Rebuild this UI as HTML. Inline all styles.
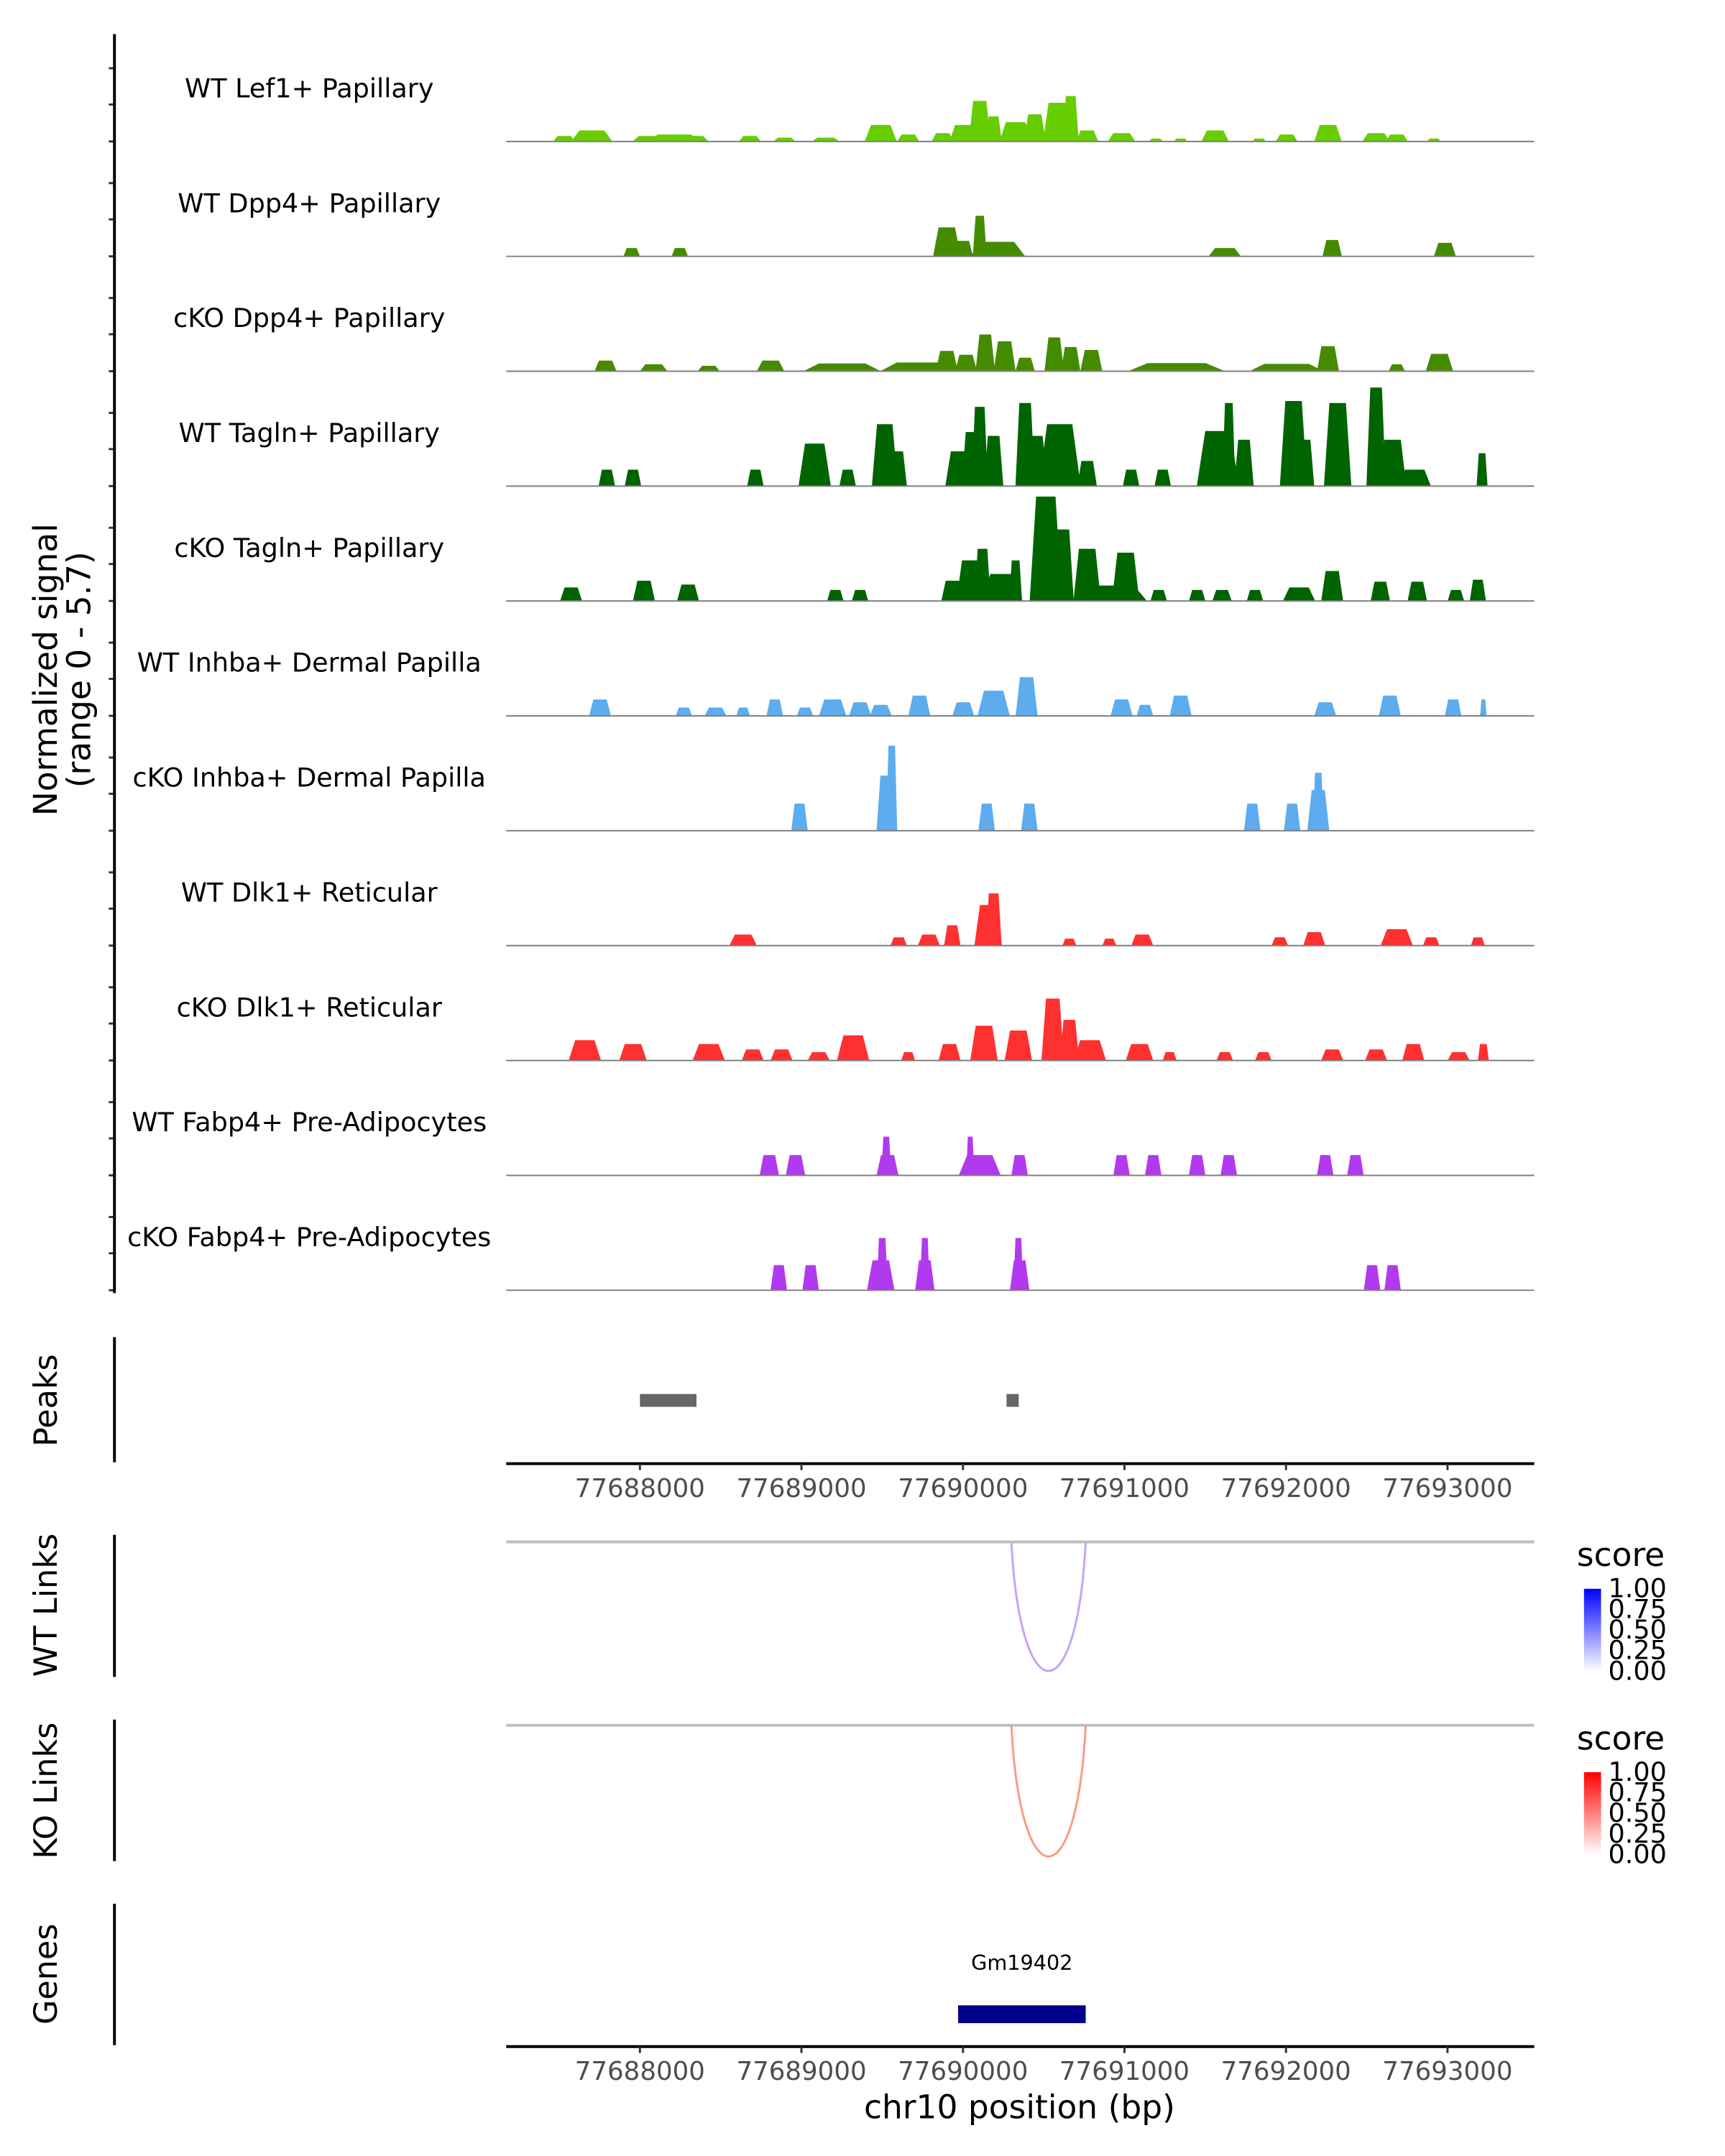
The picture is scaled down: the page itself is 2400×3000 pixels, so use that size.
<!DOCTYPE html>
<html><head><meta charset="utf-8"><style>
html,body{margin:0;padding:0;background:#fff;}
svg{display:block;font-family:"DejaVu Sans","Liberation Sans",sans-serif;}
</style></head><body>
<svg id="chart" width="2400" height="3000" viewBox="0 0 2400 3000" xmlns="http://www.w3.org/2000/svg">
<defs>
<linearGradient id="gBlue" x1="0" y1="1" x2="0" y2="0"><stop offset="0" stop-color="#ffffff"/><stop offset="1" stop-color="#0000ff"/></linearGradient>
<linearGradient id="gRed" x1="0" y1="1" x2="0" y2="0"><stop offset="0" stop-color="#ffffff"/><stop offset="1" stop-color="#ff0000"/></linearGradient>
</defs>
<g transform="scale(0.98915)">
<g id="tracks"></g>
<text transform="translate(80,942) rotate(-90)" text-anchor="middle" font-size="46">Normalized signal</text>
<text transform="translate(127,942) rotate(-90)" text-anchor="middle" font-size="46">(range 0 - 5.7)</text>
<line x1="161" y1="48" x2="161" y2="1819" stroke="#000" stroke-width="4"/>
<line x1="161" y1="1881" x2="161" y2="2057" stroke="#000" stroke-width="4"/>
<text transform="translate(80,1970) rotate(-90)" text-anchor="middle" font-size="45">Peaks</text>
<g id="peaks"></g>
<g id="axis1"></g>
<line x1="161" y1="2159" x2="161" y2="2359" stroke="#000" stroke-width="4"/>
<text transform="translate(80,2258) rotate(-90)" text-anchor="middle" font-size="45">WT Links</text>
<line x1="712" y1="2169" x2="2158" y2="2169" stroke="#bebebe" stroke-width="4"/>
<g id="wtlinks"></g>
<g>
<text x="2218" y="2203" font-size="46">score</text>
<rect x="2228" y="2235" width="24" height="116" fill="url(#gBlue)"/>
<g font-size="37"><text x="2262" y="2247">1.00</text><text x="2262" y="2276">0.75</text><text x="2262" y="2305">0.50</text><text x="2262" y="2334">0.25</text><text x="2262" y="2363">0.00</text></g>
</g>
<line x1="161" y1="2419" x2="161" y2="2618" stroke="#000" stroke-width="4"/>
<text transform="translate(80,2519) rotate(-90)" text-anchor="middle" font-size="45">KO Links</text>
<line x1="712" y1="2427" x2="2158" y2="2427" stroke="#bebebe" stroke-width="4"/>
<g id="kolinks"></g>
<g>
<text x="2218" y="2461" font-size="46">score</text>
<rect x="2228" y="2493" width="24" height="116" fill="url(#gRed)"/>
<g font-size="37"><text x="2262" y="2505">1.00</text><text x="2262" y="2534">0.75</text><text x="2262" y="2563">0.50</text><text x="2262" y="2592">0.25</text><text x="2262" y="2621">0.00</text></g>
</g>
<line x1="161" y1="2678" x2="161" y2="2877" stroke="#000" stroke-width="4"/>
<text transform="translate(80,2777) rotate(-90)" text-anchor="middle" font-size="45">Genes</text>
<g id="genes"></g>
<g id="axis2"></g>
<text x="1434" y="2980" text-anchor="middle" font-size="46">chr10 position (bp)</text>
</g>
</svg>
<script>
const trackNames=["WT Lef1+ Papillary","WT Dpp4+ Papillary","cKO Dpp4+ Papillary","WT Tagln+ Papillary","cKO Tagln+ Papillary","WT Inhba+ Dermal Papilla","cKO Inhba+ Dermal Papilla","WT Dlk1+ Reticular","cKO Dlk1+ Reticular","WT Fabp4+ Pre-Adipocytes","cKO Fabp4+ Pre-Adipocytes"];
const trackColors=["#66cd00","#458b00","#458b00","#006400","#006400","#5cacee","#5cacee","#ff3030","#ff3030","#b23aee","#b23aee"];
const xTicks=[77688000,77689000,77690000,77691000,77692000,77693000];
const yMax=5.7;
const pos0=[77687702,77687531,77688042,77688213,77688340,77688681,77688895,77689150,77689491,77689661,77689874,77690002,77690104,77690190,77690326,77690445,77690581,77690667,77690769,77690982,77691195,77691348,77691561,77691834,77692004,77692260,77692558,77692686,77692916];
const hw0=[128,68,85,170,85,68,68,85,100,68,68,85,68,50,100,68,85,50,68,85,43,43,85,43,68,85,85,68,43];
const ht0=[0.57,0.28,0.28,0.36,0.28,0.28,0.2,0.2,0.85,0.36,0.43,0.85,2.1,1.3,1.0,1.4,2.0,2.35,0.57,0.43,0.15,0.15,0.57,0.15,0.36,0.85,0.43,0.36,0.15];
const pos1=[77687949,77688247,77689900,77690002,77690104,77690215,77691621,77692286,77692984];
const hw1=[51,51,85,60,43,170,100,60,68];
const ht1=[0.43,0.43,1.5,0.8,2.1,0.75,0.43,0.85,0.7];
const pos2=[77687787,77688085,77688426,77688809,77689252,77689747,77689900,77690019,77690138,77690258,77690385,77690565,77690667,77690795,77691323,77692004,77692260,77692686,77692950];
const hw2=[68,85,68,85,240,260,68,68,60,68,60,60,60,68,300,230,68,50,85];
const ht2=[0.55,0.36,0.28,0.55,0.4,0.45,1.05,0.85,1.9,1.55,0.7,1.75,1.25,1.1,0.42,0.38,1.3,0.36,0.9];
const pos3=[77687795,77687957,77688715,77689082,77689286,77689516,77689593,77689976,77690053,77690104,77690190,77690385,77690445,77690599,77690769,77691041,77691237,77691578,77691646,77691740,77692047,77692115,77692320,77692558,77692660,77692797,77693214];
const hw3=[51,51,51,100,51,80,60,85,60,50,60,60,80,130,60,51,51,130,40,60,85,60,85,60,85,100,34];
const ht3=[0.85,0.85,0.85,2.2,0.85,3.2,1.8,1.8,2.8,4.1,2.6,4.3,2.6,3.2,1.3,0.85,0.85,2.85,4.3,2.4,4.4,2.4,4.3,5.1,2.4,0.85,1.7];
const pos4=[77687574,77688025,77688298,77689210,77689363,77689934,77690045,77690121,77690241,77690326,77690513,77690616,77690769,77691007,77690939,77691212,77691450,77691604,77691808,77692081,77692286,77692584,77692813,77693052,77693188];
const hw4=[68,68,68,51,51,68,85,50,120,40,100,70,85,85,200,51,51,60,51,100,68,60,60,51,50];
const ht4=[0.7,1.05,0.85,0.57,0.57,1.05,2.1,2.7,1.4,2.1,5.4,3.7,2.7,2.5,0.8,0.57,0.57,0.57,0.57,0.7,1.55,1.0,1.0,0.57,1.1];
const pos5=[77687753,77688272,77688468,77688639,77688835,77689022,77689193,77689363,77689491,77689730,77690002,77690190,77690394,77690982,77691127,77691348,77692243,77692643,77693035,77693222];
const hw5=[68,51,68,43,51,51,85,68,68,68,68,100,68,68,51,68,68,68,51,20];
const ht5=[0.85,0.43,0.43,0.43,0.85,0.43,0.85,0.7,0.57,1.05,0.7,1.3,2.0,0.85,0.57,1.05,0.7,1.05,0.85,0.85];
const pos6=[77688988,77689525,77689559,77690147,77690411,77691791,77692038,77692200,77692200];
const hw6=[51,60,34,51,51,51,51,68,34];
const ht6=[1.4,2.85,4.4,1.4,1.4,1.4,1.4,2.1,3.0];
const pos7=[77688639,77689602,77689789,77689934,77690156,77690190,77690659,77690906,77691110,77691962,77692175,77692686,77692899,77693188];
const hw7=[85,51,68,51,85,50,43,43,68,51,68,100,51,43];
const ht7=[0.57,0.43,0.57,1.05,2.1,2.7,0.36,0.36,0.57,0.43,0.7,0.85,0.43,0.43];
const pos8=[77687659,77687957,77688426,77688698,77688877,77689107,77689320,77689661,77689917,77690130,77690343,77690556,77690659,77690786,77691093,77691280,77691621,77691860,77692286,77692558,77692788,77693069,77693222];
const hw8=[100,85,100,68,68,68,100,43,68,85,85,70,60,100,85,43,51,51,68,68,68,68,34];
const ht8=[1.05,0.85,0.85,0.57,0.57,0.43,1.3,0.43,0.85,1.8,1.55,3.2,2.1,1.05,0.85,0.43,0.43,0.43,0.57,0.57,0.85,0.43,0.85];
const pos9=[77688801,77688963,77689533,77689525,77690104,77690045,77690351,77690982,77691178,77691450,77691646,77692243,77692430];
const hw9=[60,60,68,30,130,25,51,51,51,51,51,51,51];
const ht9=[1.05,1.05,1.05,2.0,1.05,2.0,1.05,1.05,1.05,1.05,1.05,1.05,1.05];
const pos10=[77688860,77689057,77689491,77689500,77689764,77689764,77690351,77690343,77692533,77692660];
const hw10=[51,51,85,34,60,30,60,30,51,51];
const ht10=[1.3,1.3,1.55,2.7,1.55,2.7,1.55,2.7,1.3,1.3];
const trackPos=[pos0,pos1,pos2,pos3,pos4,pos5,pos6,pos7,pos8,pos9,pos10];
const trackHw=[hw0,hw1,hw2,hw3,hw4,hw5,hw6,hw7,hw8,hw9,hw10];
const trackHt=[ht0,ht1,ht2,ht3,ht4,ht5,ht6,ht7,ht8,ht9,ht10];
const peakStarts=[77688000,77690270];
const peakEnds=[77688350,77690345];
const wtLinkStart=[77690300];const wtLinkEnd=[77690760];const wtLinkScore=[0.3];
const koLinkStart=[77690300];const koLinkEnd=[77690760];const koLinkScore=[0.45];
const geneName=["Gm19402"];const geneStart=[77689970];const geneEnd=[77690760];

const NS="http://www.w3.org/2000/svg";
const X0=77687172,X1=77693537,PX0=712,PX1=2158;
function xs(v){return PX0+(v-X0)/(X1-X0)*(PX1-PX0);}
const TRACK_H=155;
function ys(v,base){return base-v/yMax*TRACK_H;}
function mk(tag,attrs,parent){const e=document.createElementNS(NS,tag);for(const k in attrs)e.setAttribute(k,attrs[k]);parent.appendChild(e);return e;}

const tg=document.getElementById('tracks');
for(let i=0;i<trackNames.length;i++){
  const base=199+i*161.6;
  const g=mk('g',{},tg);
  
  
  const lab=mk('text',{x:435,y:base-62,'text-anchor':'middle','font-size':37},g);
  lab.textContent=trackNames[i];
  
  
  [0,52,103].forEach(o=>{const t=mk('line',{x1:153,x2:161,y1:base-o,y2:base-o,stroke:'#333','stroke-width':3},g);
    
    });
  const P=trackPos[i],H=trackHw[i],V=trackHt[i];
  for(let j=0;j<P.length;j++){
    const a=xs(P[j]-H[j]),b=xs(P[j]-H[j]*0.6),c=xs(P[j]+H[j]*0.6),d=xs(P[j]+H[j]);
    const y=ys(V[j],base);
    const p=mk('polygon',{points:`${a},${base} ${b},${y} ${c},${y} ${d},${base}`,fill:trackColors[i]},g);
    
    
  }
  const bl=mk('line',{x1:PX0,x2:PX1,y1:base,y2:base,stroke:'#7f7f7f','stroke-width':2},g);
  
  
}
const pg=document.getElementById('peaks');
for(let j=0;j<peakStarts.length;j++){
  const r=mk('rect',{x:xs(peakStarts[j]),y:1961,width:Math.max(xs(peakEnds[j])-xs(peakStarts[j]),4),height:18,fill:'#666666'},pg);
  
  
}
function axis(id,y){
  const g=document.getElementById(id);
  const l=mk('line',{x1:PX0,x2:PX1,y1:y,y2:y,stroke:'#000','stroke-width':4},g);
  
  
  xTicks.forEach(t=>{
    const tk=mk('line',{x1:xs(t),x2:xs(t),y1:y,y2:y+9,stroke:'#333','stroke-width':3},g);
    
    
    const tx=mk('text',{x:xs(t),y:y+47,'text-anchor':'middle','font-size':36,fill:'#4d4d4d'},g);
    tx.textContent=t;
    
    
  });
}
axis('axis1',2059);axis('axis2',2879);
function links(id,S,E,sc,top,depth,col){
  const g=document.getElementById(id);
  for(let j=0;j<S.length;j++){
    const a=xs(S[j]),b=xs(E[j]);
    const p=mk('path',{d:`M${a},${top} C${a+(b-a)*0.12},${top+depth*1.33} ${b-(b-a)*0.12},${top+depth*1.33} ${b},${top}`,fill:'none',stroke:col,'stroke-width':3},g);
    
    
  }
}
links('wtlinks',wtLinkStart,wtLinkEnd,wtLinkScore,2169,182,'#c4a3fa');
links('kolinks',koLinkStart,koLinkEnd,koLinkScore,2427,185,'#fb9a82');
const gg=document.getElementById('genes');
for(let j=0;j<geneName.length;j++){
  const r=mk('rect',{x:xs(geneStart[j]),y:2821,width:xs(geneEnd[j])-xs(geneStart[j]),height:25,fill:'#00008b'},gg);
  
  
  const t=mk('text',{x:(xs(geneStart[j])+xs(geneEnd[j]))/2,y:2771,'text-anchor':'middle','font-size':29},gg);
  t.textContent=geneName[j];
  
  
}
</script>
</body></html>
